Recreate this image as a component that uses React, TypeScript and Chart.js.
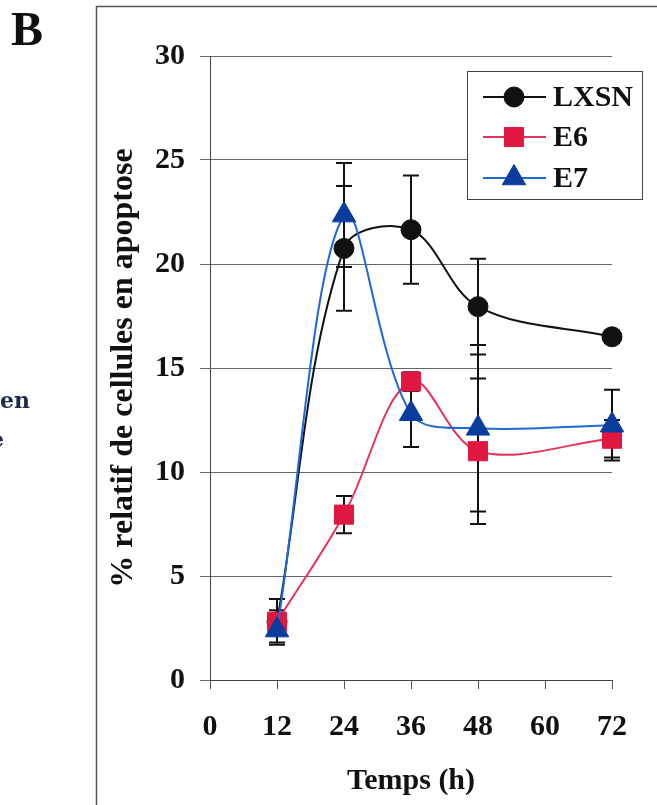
import React, { useEffect, useRef } from "react";
import { Chart, registerables } from "chart.js";
import { drawPoint } from "chart.js/helpers";

Chart.register(...registerables);

// ---- data ----
const hours = [12, 24, 36, 48, 72];
const seriesNames = ["LXSN", "E6", "E7"];
const lxsnValues = [2.8, 20.75, 21.65, 17.95, 16.5];
const lxsnErrors = [1.1, 3.0, 2.6, 2.3, 0.3];
const e6Values = [2.8, 7.95, 14.35, 11.0, 11.6];
const e6Errors = [0.55, 0.9, 0.45, 3.5, 0.9];
const e7Values = [2.4, 22.35, 12.8, 12.1, 12.25];
const e7Errors = [0.6, 2.5, 1.6, 4.0, 1.7];
const xTickValues = [0, 12, 24, 36, 48, 60, 72];
const yTickValues = [0, 5, 10, 15, 20, 25, 30];
const xTitle = "Temps (h)";
const yTitle = "% relatif de cellules en apoptose";

const SERIF = "'Liberation Serif', 'Times New Roman', serif";

const styles = [
  { line: "#111111", fill: "#111111", point: "circle", radius: 10 },
  { line: "#e5345a", fill: "#df1741", point: "rect", radius: 13.5 },
  { line: "#1c6bd0", fill: "#0a3c9e", point: "triangle", radius: 13.5 },
];

const errorBarPlugin = {
  id: "errorBars",
  beforeDatasetsDraw(chart: any) {
    const { ctx, scales } = chart;
    const xs = scales.x;
    const ys = scales.y;
    ctx.save();
    ctx.strokeStyle = "#111";
    ctx.lineWidth = 2;
    chart.data.datasets.forEach((ds: any) => {
      const errs: number[] = ds.errors;
      ds.data.forEach((p: any, i: number) => {
        const px = xs.getPixelForValue(p.x);
        const top = ys.getPixelForValue(p.y + errs[i]);
        const bot = ys.getPixelForValue(p.y - errs[i]);
        ctx.beginPath();
        ctx.moveTo(px, top);
        ctx.lineTo(px, bot);
        ctx.moveTo(px - 8, top);
        ctx.lineTo(px + 8, top);
        ctx.moveTo(px - 8, bot);
        ctx.lineTo(px + 8, bot);
        ctx.stroke();
      });
    });
    ctx.restore();
  },
};

const decorPlugin = {
  id: "decor",
  beforeDraw(chart: any) {
    const { ctx } = chart;
    ctx.save();
    ctx.fillStyle = "#fff";
    ctx.fillRect(0, 0, chart.width, chart.height);
    // outer frame
    ctx.strokeStyle = "#555";
    ctx.lineWidth = 1.5;
    ctx.beginPath();
    ctx.moveTo(96.5, chart.height);
    ctx.lineTo(96.5, 6.5);
    ctx.lineTo(chart.width, 6.5);
    ctx.stroke();
    // panel letter
    ctx.fillStyle = "#111";
    ctx.font = `bold 48px ${SERIF}`;
    ctx.textBaseline = "alphabetic";
    ctx.textAlign = "left";
    ctx.fillText("B", 11, 45);
    // cut-off text from neighbouring panel
    ctx.fillStyle = "#1c2b4a";
    ctx.font = "bold 22px 'DejaVu Serif', serif";
    ctx.fillText("en", 0, 408);
    ctx.fillText("e", -10, 447);
    ctx.restore();
  },
  afterDraw(chart: any) {
    const { ctx } = chart;
    ctx.save();
    const bx = 467, by = 71, bw = 175, bh = 128;
    ctx.fillStyle = "#fff";
    ctx.fillRect(bx, by, bw, bh);
    ctx.strokeStyle = "#444";
    ctx.lineWidth = 1;
    ctx.strokeRect(bx + 0.5, by + 0.5, bw, bh);
    const rows = [97, 137, 178];
    seriesNames.forEach((name, i) => {
      const st = styles[i];
      const y = rows[i];
      ctx.strokeStyle = st.line;
      ctx.lineWidth = 2;
      ctx.beginPath();
      ctx.moveTo(483, y);
      ctx.lineTo(546, y);
      ctx.stroke();
      ctx.fillStyle = st.fill;
      ctx.strokeStyle = st.fill;
      ctx.lineWidth = 1;
      drawPoint(ctx, { pointStyle: st.point, radius: st.radius, rotation: 0, borderWidth: 1 } as any, 514, y);
      ctx.fillStyle = "#111";
      ctx.font = `bold 30px ${SERIF}`;
      ctx.textAlign = "left";
      ctx.textBaseline = "middle";
      ctx.fillText(name, 553, y + 1);
    });
    ctx.restore();
  },
};

export default function App() {
  const ref = useRef<HTMLCanvasElement | null>(null);

  useEffect(() => {
    if (!ref.current) return;
    const valueSets = [lxsnValues, e6Values, e7Values];
    const errorSets = [lxsnErrors, e6Errors, e7Errors];
    const datasets = seriesNames.map((name, i) => ({
      label: name,
      data: hours.map((h, j) => ({ x: h, y: valueSets[i][j] })),
      errors: errorSets[i],
      borderColor: styles[i].line,
      backgroundColor: styles[i].fill,
      pointBackgroundColor: styles[i].fill,
      pointBorderColor: styles[i].fill,
      pointBorderWidth: 1,
      pointStyle: styles[i].point,
      pointRadius: styles[i].radius,
      borderWidth: 2,
      tension: 0.35,
      fill: false,
      clip: false,
      order: 3 - i,
    }));
    const tickFont = { family: SERIF, size: 30, weight: "bold" as const };
    const chart = new Chart(ref.current, {
      type: "line",
      data: { datasets: datasets as any },
      plugins: [decorPlugin, errorBarPlugin],
      options: {
        responsive: false,
        animation: false,
        layout: { padding: { left: 105, right: 45, top: 56, bottom: 6 } },
        plugins: { legend: { display: false }, tooltip: { enabled: false } },
        scales: {
          x: {
            type: "linear",
            min: 0,
            max: 72,
            afterBuildTicks: (s: any) => {
              s.ticks = xTickValues.map((v) => ({ value: v }));
            },
            ticks: { font: tickFont, color: "#111", padding: 20, maxRotation: 0, autoSkip: false },
            grid: { drawOnChartArea: false, drawTicks: true, tickLength: 9, color: "#555", lineWidth: 1 },
            border: { display: true, color: "#444", width: 1 },
            title: { display: true, text: xTitle, font: tickFont, color: "#111", padding: { top: 0, bottom: 0 } },
            afterFit: (s: any) => {
              s.height = 119;
            },
          },
          y: {
            type: "linear",
            min: 0,
            max: 30,
            afterBuildTicks: (s: any) => {
              s.ticks = yTickValues.map((v) => ({ value: v }));
            },
            ticks: { font: tickFont, color: "#111", padding: 15, autoSkip: false },
            grid: { drawOnChartArea: true, drawTicks: true, tickLength: 10, color: "#666", lineWidth: 1 },
            border: { display: true, color: "#444", width: 1 },
            title: {
              display: true,
              text: yTitle,
              font: { family: SERIF, size: 32, weight: "bold" },
              color: "#111",
              padding: { top: 0, bottom: 0 },
            },
            afterFit: (s: any) => {
              s.width = 105;
            },
          },
        },
      } as any,
    });
    return () => chart.destroy();
  }, []);

  return (
    <div style={{ position: "absolute", left: 0, top: 0, width: 657, height: 805 }}>
      <canvas ref={ref} width={657} height={805} style={{ display: "block" }} />
    </div>
  );
}
